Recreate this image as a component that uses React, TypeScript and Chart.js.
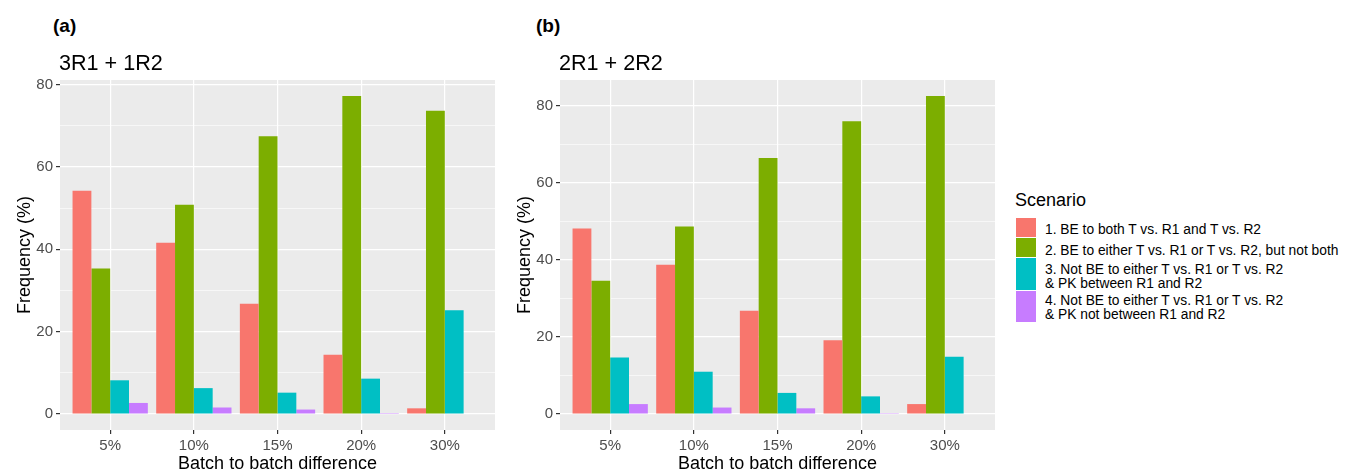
import React, { useEffect, useRef } from "react";
import { Chart, registerables } from "chart.js";

Chart.register(...registerables);

const categories = ["5%", "10%", "15%", "20%", "30%"];
const scenarioNames = [
  "1. BE to both T vs. R1 and T vs. R2",
  "2. BE to either T vs. R1 or T vs. R2, but not both",
  "3. Not BE to either T vs. R1 or T vs. R2\n& PK between R1 and R2",
  "4. Not BE to either T vs. R1 or T vs. R2\n& PK not between R1 and R2",
];
const scenarioColors = ["#F8766D", "#7CAE00", "#00BFC4", "#C77CFF"];

// Panel (a): 3R1 + 1R2
const panelA_s1 = [54.2, 41.6, 26.8, 14.4, 1.4];
const panelA_s2 = [35.3, 50.8, 67.4, 77.2, 73.6];
const panelA_s3 = [8.2, 6.3, 5.2, 8.6, 25.2];
const panelA_s4 = [2.7, 1.6, 1.1, 0.25, 0];

// Panel (b): 2R1 + 2R2
const panelB_s1 = [48.2, 38.8, 26.8, 19.2, 2.6];
const panelB_s2 = [34.6, 48.7, 66.5, 76.0, 82.6];
const panelB_s3 = [14.7, 11.0, 5.5, 4.6, 14.9];
const panelB_s4 = [2.6, 1.7, 1.5, 0.25, 0];

const yTickValues = [0, 10, 20, 30, 40, 50, 60, 70, 80];

const FONT = "'Liberation Sans', Arial, Helvetica, sans-serif";

const panelBg = {
  id: "panelBg",
  beforeDraw(chart: any) {
    const { ctx, chartArea } = chart;
    ctx.save();
    ctx.fillStyle = "#EBEBEB";
    ctx.fillRect(chartArea.left, chartArea.top, chartArea.right - chartArea.left, chartArea.bottom - chartArea.top);
    ctx.restore();
  },
};

function BarPanel({ series }: { series: number[][] }) {
  const ref = useRef<HTMLCanvasElement>(null);
  useEffect(() => {
    if (!ref.current) return;
    const maxVal = Math.max(...series.flat());
    const chart = new Chart(ref.current, {
      type: "bar",
      data: {
        datasets: series.map((vals, i) => ({
          label: scenarioNames[i],
          data: vals.map((v, j) => ({ x: j, y: v })),
          backgroundColor: scenarioColors[i],
          borderWidth: 0,
          categoryPercentage: 0.9,
          barPercentage: 1,
        })),
      },
      options: {
        animation: false,
        responsive: false,
        devicePixelRatio: 1,
        layout: { padding: { top: 30, right: 5, left: 0, bottom: 0 } },
        plugins: { legend: { display: false }, tooltip: { enabled: false } },
        scales: {
          x: {
            type: "linear",
            offset: false,
            min: -0.6,
            max: categories.length - 0.4,
            afterBuildTicks: (s: any) => {
              s.ticks = categories.map((_, i) => ({ value: i }));
            },
            afterFit: (s: any) => {
              s.height = 43;
            },
            ticks: {
              callback: (v: any) => categories[v] ?? "",
              font: { family: FONT, size: 15 },
              color: "#4D4D4D",
              padding: 3,
              autoSkip: false,
              maxRotation: 0,
            },
            grid: { offset: false, color: "#FFFFFF", lineWidth: 1.2, tickColor: "#333333", tickLength: 4 },
            border: { display: false },
            title: {
              display: true,
              text: "Batch to batch difference",
              font: { family: FONT, size: 18, lineHeight: 1 },
              color: "#000000",
              padding: 0,
            },
          },
          y: {
            type: "linear",
            min: -0.05 * maxVal,
            max: 1.05 * maxVal,
            afterBuildTicks: (s: any) => {
              s.ticks = yTickValues.filter((v) => v <= s.max).map((v) => ({ value: v }));
            },
            afterFit: (s: any) => {
              s.width = 60;
            },
            ticks: {
              callback: (v: any) => (v % 20 === 0 ? String(v) : ""),
              font: { family: FONT, size: 15 },
              color: "#4D4D4D",
              padding: 3,
            },
            grid: {
              color: "#FFFFFF",
              lineWidth: (c: any) => (c.tick && c.tick.value % 20 === 0 ? 1.2 : 0.6),
              tickColor: (c: any) => (c.tick && c.tick.value % 20 === 0 ? "#333333" : "rgba(0,0,0,0)"),
              tickLength: 4,
            },
            border: { display: false },
            title: {
              display: true,
              text: "Frequency (%)",
              font: { family: FONT, size: 18, lineHeight: 1 },
              color: "#000000",
              padding: { top: 16, bottom: 0 },
            },
          },
        },
      },
      plugins: [panelBg],
    } as any);
    return () => chart.destroy();
  }, []);
  return <canvas ref={ref} width={500} height={423} style={{ display: "block", width: 500, height: 423 }} />;
}

const abs = (left: number, top: number, extra: any = {}) => ({
  position: "absolute" as const,
  left,
  top,
  fontFamily: FONT,
  whiteSpace: "pre" as const,
  ...extra,
});

const legendKeys = [
  { top: 218, height: 19 },
  { top: 238, height: 19 },
  { top: 258, height: 32 },
  { top: 291, height: 31 },
];
const legendTextTops = [223, 243.5, 263, 293.5];

export default function App() {
  return (
    <div
      style={{
        position: "absolute",
        left: 0,
        top: 0,
        width: 1348,
        height: 473,
        overflow: "hidden",
        background: "#FFFFFF",
      }}
    >
      <div style={{ position: "absolute", left: 0, top: 50 }}>
        <BarPanel series={[panelA_s1, panelA_s2, panelA_s3, panelA_s4]} />
      </div>
      <div style={{ position: "absolute", left: 500, top: 50 }}>
        <BarPanel series={[panelB_s1, panelB_s2, panelB_s3, panelB_s4]} />
      </div>

      <div style={abs(53, 16, { fontSize: 19, fontWeight: "bold", lineHeight: "20px" })}>(a)</div>
      <div style={abs(59, 50.5, { fontSize: 21.6, lineHeight: "24px" })}>3R1 + 1R2</div>
      <div style={abs(536, 16, { fontSize: 19, fontWeight: "bold", lineHeight: "20px" })}>(b)</div>
      <div style={abs(559, 50.5, { fontSize: 21.6, lineHeight: "24px" })}>2R1 + 2R2</div>

      <div style={abs(1015, 190, { fontSize: 18, lineHeight: "20px" })}>Scenario</div>
      {legendKeys.map((k, i) => (
        <div
          key={"k" + i}
          style={{
            position: "absolute",
            left: 1015.5,
            top: k.top,
            width: 20,
            height: k.height,
            background: scenarioColors[i],
          }}
        />
      ))}
      {scenarioNames.map((t, i) => (
        <div key={"t" + i} style={abs(1045, legendTextTops[i], { fontSize: 13.8, lineHeight: "14px", color: "#000" })}>
          {t}
        </div>
      ))}
    </div>
  );
}
